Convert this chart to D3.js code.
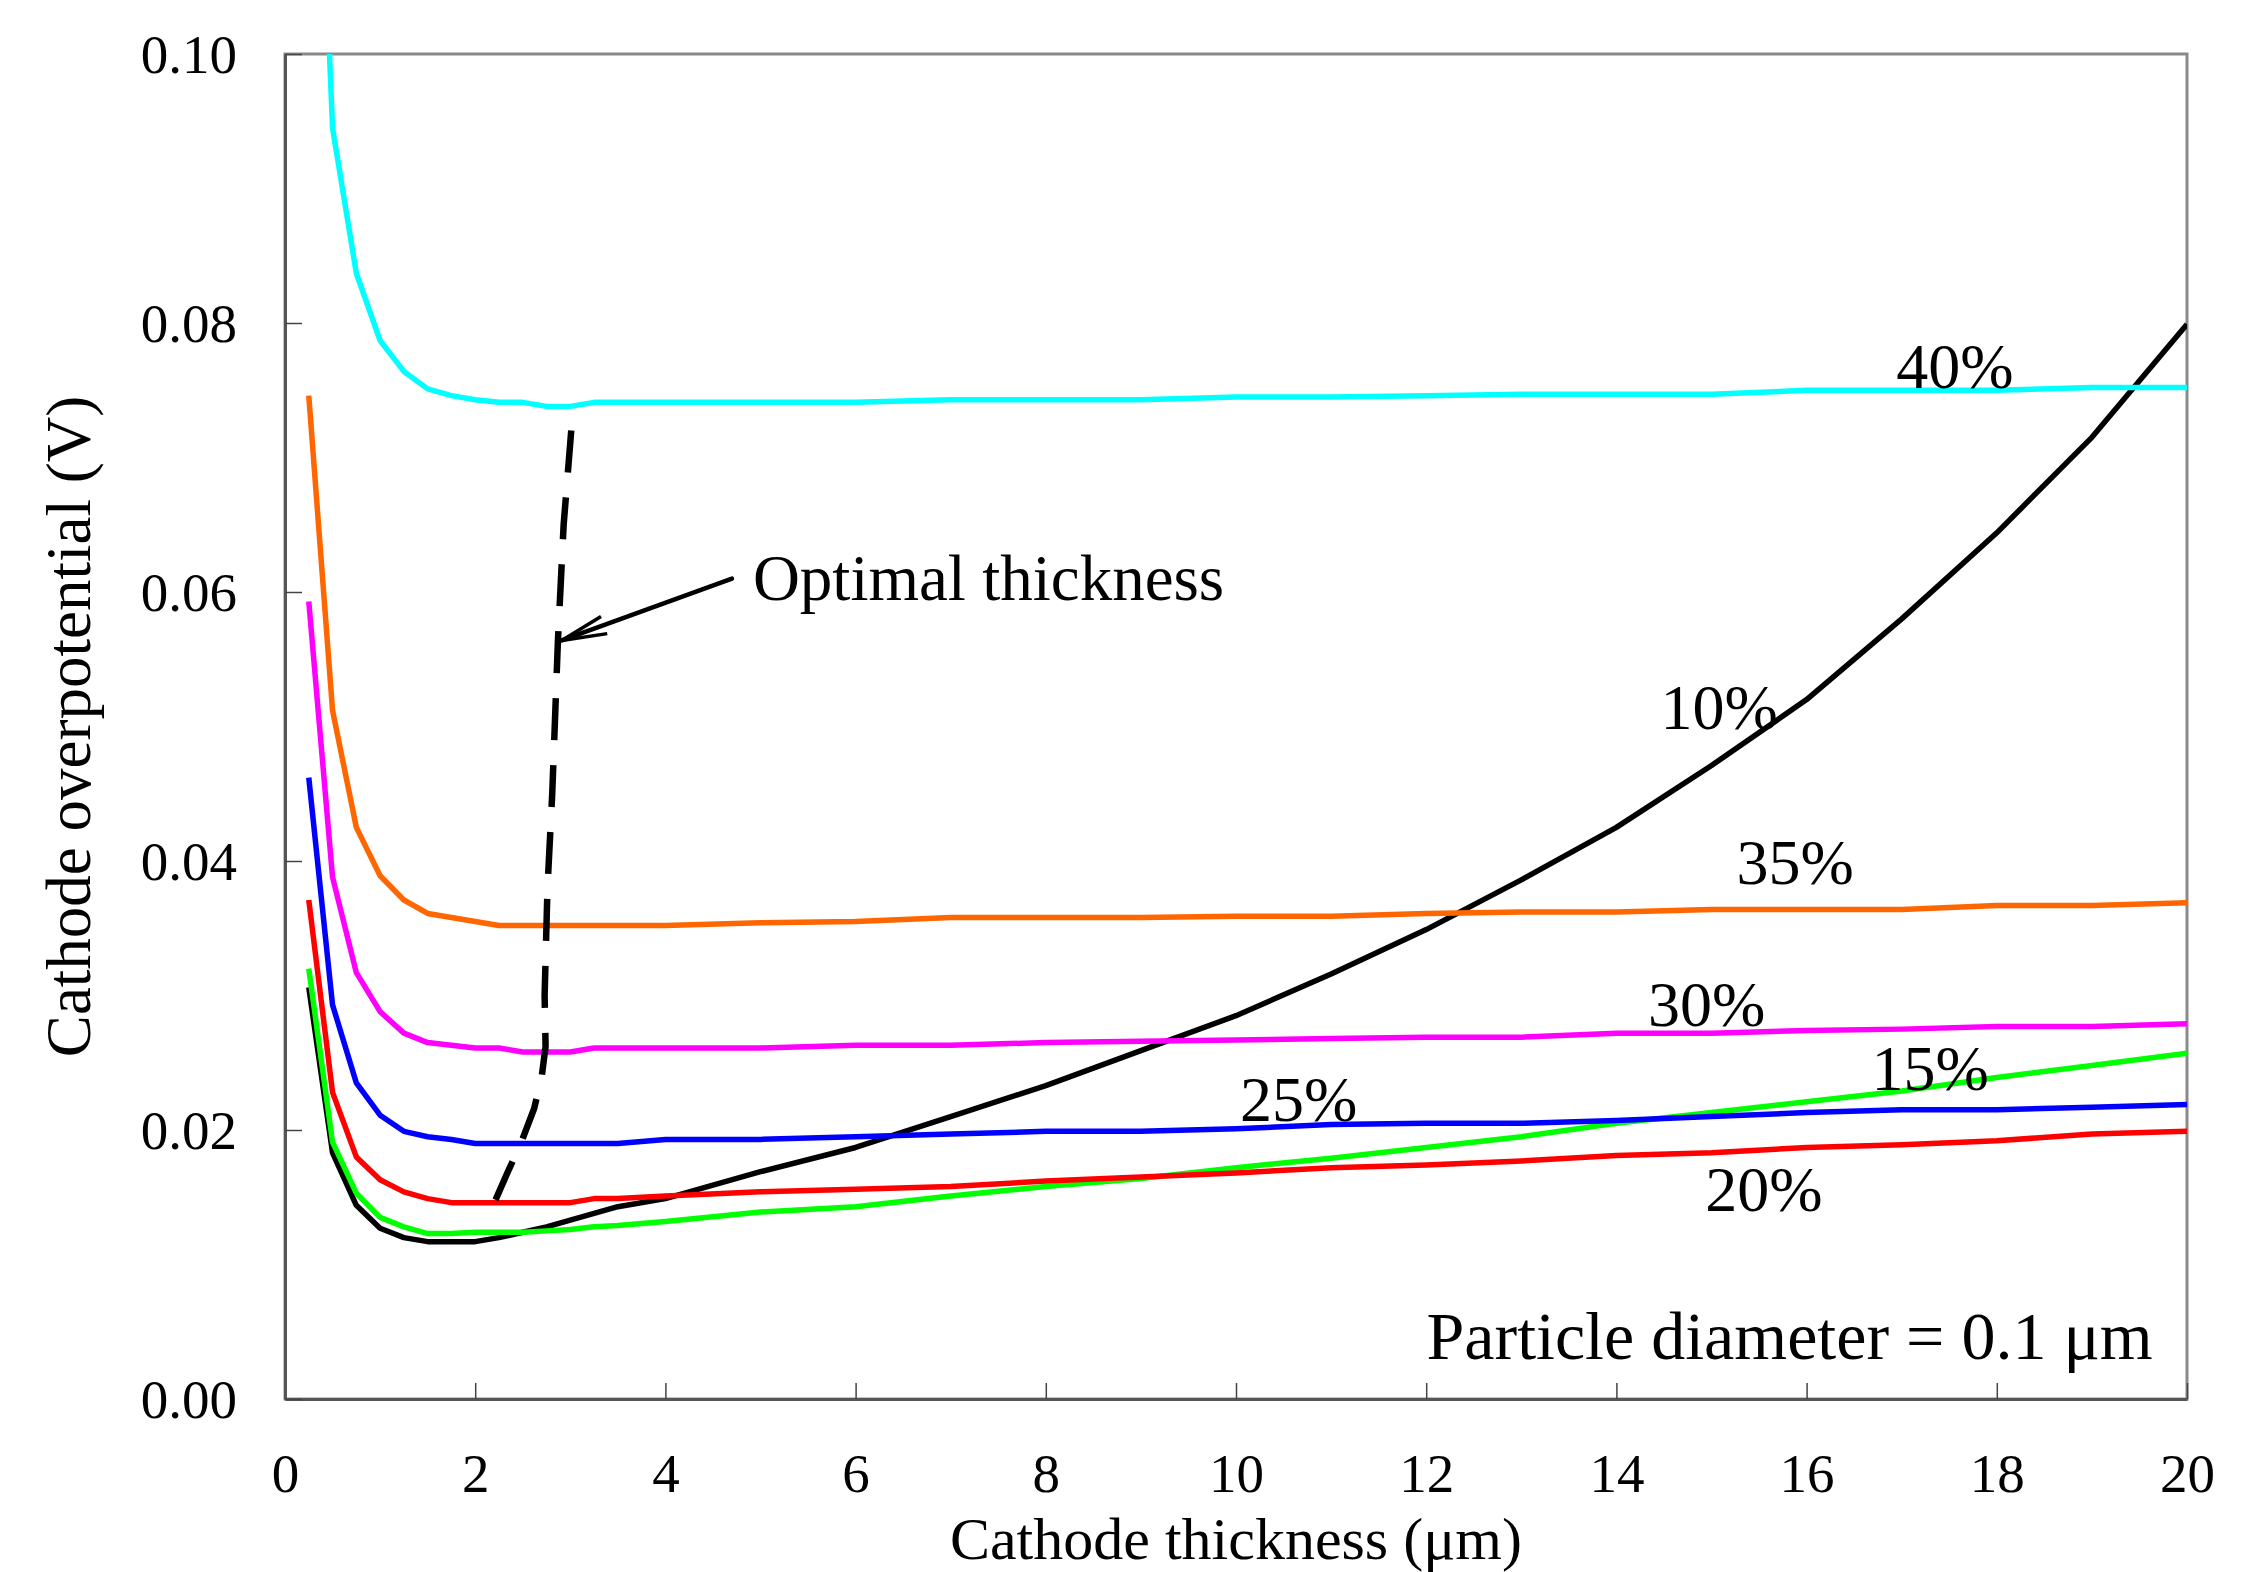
<!DOCTYPE html>
<html>
<head>
<meta charset="utf-8">
<script src="https://cdn.jsdelivr.net/npm/d3@7"></script>
<style>
  body { margin: 0; background: #fff; }
  text { font-family: "Liberation Serif", "Times New Roman", serif; fill: #000; }
</style>
</head>
<body>
<div id="chart"></div>
<script>
// cathode thickness (um) grid shared by all curves
const thickness = [0.25, 0.5, 0.75, 1, 1.25, 1.5, 1.75, 2, 2.25, 2.5, 2.75, 3, 3.25, 3.5,
  4, 5, 6, 7, 8, 9, 10, 11, 12, 13, 14, 15, 16, 17, 18, 19, 20];

// cathode overpotential (V) for each porosity
const eta10 = [0.0306, 0.0183, 0.0144, 0.0127, 0.0120, 0.0117, 0.0117, 0.0117, 0.0120, 0.0124, 0.0128, 0.0133, 0.0138, 0.0143,
  0.0149, 0.0169, 0.0187, 0.0210, 0.0233, 0.0259, 0.0285, 0.0316, 0.0349, 0.0386, 0.0425, 0.0471, 0.0520, 0.0580, 0.0644, 0.0715, 0.0799];
const eta15 = [0.0320, 0.0191, 0.0153, 0.0135, 0.0128, 0.0123, 0.0123, 0.0124, 0.0124, 0.0124, 0.0125, 0.0126, 0.0128, 0.0129,
  0.0132, 0.0139, 0.0143, 0.0151, 0.0158, 0.0164, 0.0172, 0.0179, 0.0187, 0.0195, 0.0205, 0.0213, 0.0221, 0.0229, 0.0239, 0.0248, 0.0257];
const eta20 = [0.0371, 0.0228, 0.0180, 0.0163, 0.0154, 0.0149, 0.0146, 0.0146, 0.0146, 0.0146, 0.0146, 0.0146, 0.0149, 0.0149,
  0.0151, 0.0154, 0.0156, 0.0158, 0.0162, 0.0165, 0.0168, 0.0172, 0.0174, 0.0177, 0.0181, 0.0183, 0.0187, 0.0189, 0.0192, 0.0197, 0.0199];
const eta25 = [0.0462, 0.0293, 0.0235, 0.0211, 0.0199, 0.0195, 0.0193, 0.0190, 0.0190, 0.0190, 0.0190, 0.0190, 0.0190, 0.0190,
  0.0193, 0.0193, 0.0195, 0.0197, 0.0199, 0.0199, 0.0201, 0.0204, 0.0205, 0.0205, 0.0207, 0.0210, 0.0213, 0.0215, 0.0215, 0.0217, 0.0219];
const eta30 = [0.0593, 0.0388, 0.0317, 0.0288, 0.0272, 0.0265, 0.0263, 0.0261, 0.0261, 0.0258, 0.0258, 0.0258, 0.0261, 0.0261,
  0.0261, 0.0261, 0.0263, 0.0263, 0.0265, 0.0266, 0.0267, 0.0268, 0.0269, 0.0269, 0.0272, 0.0272, 0.0274, 0.0275, 0.0277, 0.0277, 0.0279];
const eta35 = [0.0746, 0.0512, 0.0425, 0.0389, 0.0371, 0.0361, 0.0358, 0.0355, 0.0352, 0.0352, 0.0352, 0.0352, 0.0352, 0.0352,
  0.0352, 0.0354, 0.0355, 0.0358, 0.0358, 0.0358, 0.0359, 0.0359, 0.0361, 0.0362, 0.0362, 0.0364, 0.0364, 0.0364, 0.0367, 0.0367, 0.0369];
const eta40 = [0.1370, 0.0945, 0.0837, 0.0787, 0.0764, 0.0751, 0.0746, 0.0743, 0.0741, 0.0741, 0.0738, 0.0738, 0.0741, 0.0741,
  0.0741, 0.0741, 0.0741, 0.0743, 0.0743, 0.0743, 0.0745, 0.0745, 0.0746, 0.0747, 0.0747, 0.0747, 0.0750, 0.0750, 0.0750, 0.0752, 0.0752];

const seriesNames = ["10%", "15%", "20%", "25%", "30%", "35%", "40%"];
const seriesValues = [eta10, eta15, eta20, eta25, eta30, eta35, eta40];
const seriesColors = ["#000000", "#00ff00", "#ff0000", "#0000ff", "#ff00ff", "#ff6600", "#00ffff"];

// where each porosity label sits (data coords, baseline centre)
const labelX = [15.08, 17.30, 15.55, 10.66, 14.95, 15.88, 17.56];
const labelV = [0.0498, 0.0230, 0.0140, 0.0207, 0.0277, 0.0383, 0.0752];

// optimal thickness locus (dashed), top to bottom
const optX = [3.01, 2.93, 2.87, 2.81, 2.76, 2.73, 2.74, 2.70, 2.62, 2.48, 2.35, 2.17];
const optV = [0.0720, 0.0650, 0.0564, 0.0450, 0.0380, 0.0300, 0.0262, 0.0240, 0.0216, 0.0190, 0.0170, 0.0141];

const arrowFrom = [4.70, 0.0610];
const arrowTo = [2.91, 0.0564];
const optLabel = { text: "Optimal thickness", x: 4.92, v: 0.0594 };
const noteLabel = { text: "Particle diameter = 0.1 \u03bcm", x: 19.64, v: 0.0030 };

const xTickValues = [0, 2, 4, 6, 8, 10, 12, 14, 16, 18, 20];
const yTickValues = [0, 0.02, 0.04, 0.06, 0.08, 0.10];

const W = 2266, H = 1572;
const margin = { top: 54, right: 79, bottom: 173, left: 285 },
  width = W - margin.left - margin.right,
  height = H - margin.top - margin.bottom;

const x = d3.scaleLinear().domain([0, 20]).range([0, width]);
const y = d3.scaleLinear().domain([0, 0.1]).range([height, 0]);

const svg = d3.select("#chart")
  .append("svg")
  .attr("width", W)
  .attr("height", H)
  .style("display", "block");

svg.append("rect").attr("width", W).attr("height", H).attr("fill", "#fff");

const g = svg.append("g")
  .attr("transform", `translate(${margin.left}, ${margin.top})`);

g.append("clipPath").attr("id", "plot-clip")
  .append("rect").attr("width", width).attr("height", height);

// plot frame
g.append("rect")
  .attr("width", width)
  .attr("height", height)
  .attr("fill", "none")
  .attr("stroke", "#8a8a8a")
  .attr("stroke-width", 3);

// axes, ticks pointing inward
const xAxis = g.append("g")
  .attr("transform", `translate(0, ${height})`)
  .call(d3.axisBottom(x).tickValues(xTickValues).tickSizeInner(-16).tickSizeOuter(0).tickFormat(d3.format("d")));
xAxis.select(".domain").attr("stroke", "#555").attr("stroke-width", 3);
xAxis.selectAll(".tick line").attr("stroke", "#444").attr("stroke-width", 1.5);
xAxis.selectAll(".tick text")
  .attr("y", 93).attr("dy", null)
  .style("font-size", "55px")
  .style("font-family", "'Liberation Serif', 'Times New Roman', serif")
  .attr("fill", "#000");

const yAxis = g.append("g")
  .call(d3.axisLeft(y).tickValues(yTickValues).tickSizeInner(-17).tickSizeOuter(0).tickFormat(d3.format(".2f")));
yAxis.select(".domain").attr("stroke", "#555").attr("stroke-width", 3);
yAxis.selectAll(".tick line").attr("stroke", "#444").attr("stroke-width", 1.5);
yAxis.selectAll(".tick text")
  .attr("x", -48).attr("dy", "0.33em")
  .style("font-size", "55px")
  .style("font-family", "'Liberation Serif', 'Times New Roman', serif")
  .attr("fill", "#000");

// curves
const line = d3.line()
  .x(d => x(d[0]))
  .y(d => y(d[1]));

const curves = g.append("g").attr("clip-path", "url(#plot-clip)");
seriesValues.forEach((vals, i) => {
  curves.append("path")
    .datum(thickness.map((t, j) => [t, vals[j]]))
    .attr("d", line)
    .attr("fill", "none")
    .attr("stroke", seriesColors[i])
    .attr("stroke-width", 5.5)
    .attr("stroke-linejoin", "round");
});

// optimal thickness dashed locus
g.append("path")
  .datum(optX.map((t, j) => [t, optV[j]]))
  .attr("d", line)
  .attr("fill", "none")
  .attr("stroke", "#000")
  .attr("stroke-width", 6.5)
  .attr("stroke-dasharray", "42 25");

// arrow to the locus
const ax0 = x(arrowFrom[0]), ay0 = y(arrowFrom[1]);
const ax1 = x(arrowTo[0]), ay1 = y(arrowTo[1]);
g.append("line")
  .attr("x1", ax0).attr("y1", ay0).attr("x2", ax1).attr("y2", ay1)
  .attr("stroke", "#000").attr("stroke-width", 4.5).attr("stroke-linecap", "round");
const ang = Math.atan2(ay0 - ay1, ax0 - ax1), headLen = 46, headAng = 0.2;
g.append("path")
  .attr("d", `M${ax1 + headLen * Math.cos(ang - headAng)},${ay1 + headLen * Math.sin(ang - headAng)}` +
    `L${ax1},${ay1}L${ax1 + headLen * Math.cos(ang + headAng)},${ay1 + headLen * Math.sin(ang + headAng)}`)
  .attr("fill", "none").attr("stroke", "#000").attr("stroke-width", 3.5);

// porosity labels
g.selectAll(".plabel")
  .data(seriesNames)
  .enter()
  .append("text")
  .attr("class", "plabel")
  .attr("x", (d, i) => x(labelX[i]))
  .attr("y", (d, i) => y(labelV[i]))
  .attr("text-anchor", "middle")
  .style("font-size", "64px")
  .text(d => d);

g.append("text")
  .attr("x", x(optLabel.x)).attr("y", y(optLabel.v))
  .style("font-size", "65px")
  .text(optLabel.text);

g.append("text")
  .attr("x", x(noteLabel.x)).attr("y", y(noteLabel.v))
  .attr("text-anchor", "end")
  .style("font-size", "68px")
  .text(noteLabel.text);

// axis titles
svg.append("text")
  .attr("x", margin.left + width / 2)
  .attr("y", 1559)
  .attr("text-anchor", "middle")
  .style("font-size", "60px")
  .text("Cathode thickness (\u03bcm)");

svg.append("text")
  .attr("transform", `translate(90, ${margin.top + height / 2}) rotate(-90)`)
  .attr("text-anchor", "middle")
  .style("font-size", "63px")
  .text("Cathode overpotential (V)");
</script>
</body>
</html>
